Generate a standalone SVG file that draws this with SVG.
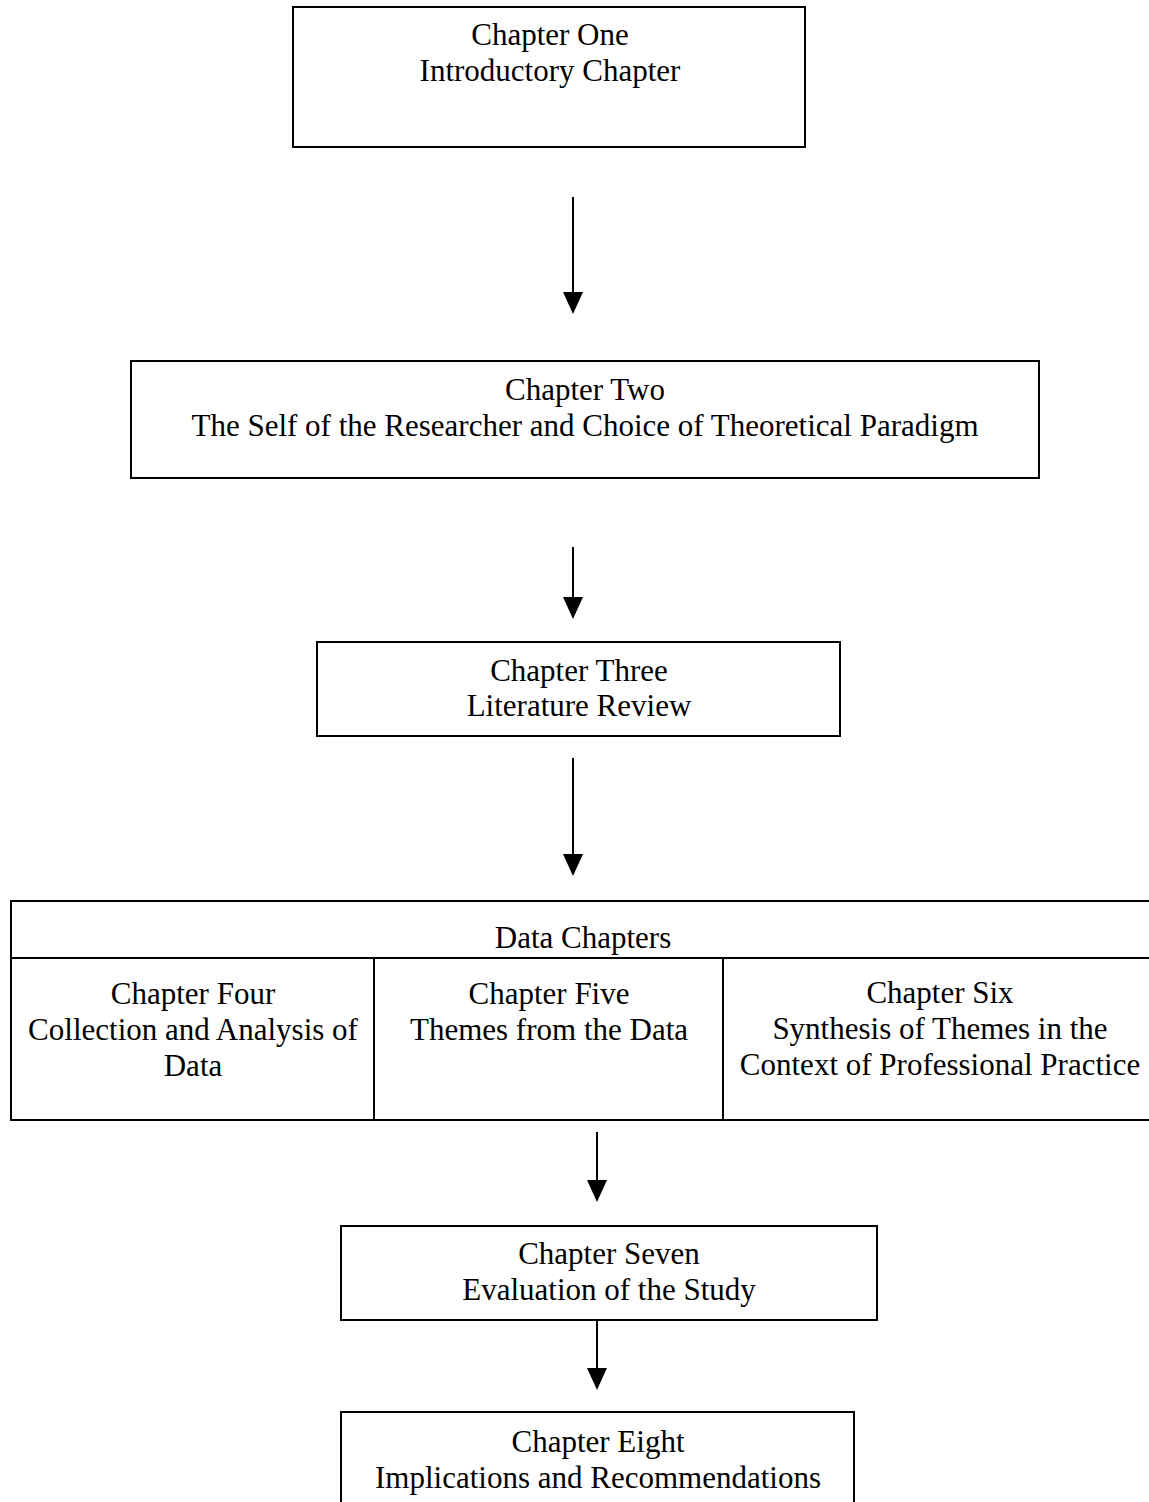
<svg xmlns="http://www.w3.org/2000/svg" width="1149" height="1502" viewBox="0 0 1149 1502">
<style>
.box{fill:#fff;stroke:#000;stroke-width:2}
.ln{stroke:#000;stroke-width:2;fill:none}
.hd{fill:#000}
text{font-family:"Liberation Serif","Times New Roman",serif;font-size:31px;fill:#000;text-anchor:middle}
</style>
<rect width="1149" height="1502" fill="#fff"/>
<g id="connectors">
<line class="ln" x1="573" y1="197" x2="573" y2="293"/><path class="hd" d="M563,292 L583,292 L573,314 Z"/>
<line class="ln" x1="573" y1="547" x2="573" y2="598"/><path class="hd" d="M563,597 L583,597 L573,619 Z"/>
<line class="ln" x1="573" y1="758" x2="573" y2="855"/><path class="hd" d="M563,854 L583,854 L573,876 Z"/>
<line class="ln" x1="597" y1="1132" x2="597" y2="1181"/><path class="hd" d="M587,1180 L607,1180 L597,1202 Z"/>
<line class="ln" x1="597" y1="1320" x2="597" y2="1369"/><path class="hd" d="M587,1368 L607,1368 L597,1390 Z"/>
</g>
<g id="ch1">
<rect class="box" x="293" y="7" width="512" height="140"/>
<text x="550" y="45">Chapter One</text>
<text x="550" y="81">Introductory Chapter</text>
</g>
<g id="ch2">
<rect class="box" x="131" y="361" width="908" height="117"/>
<text x="585" y="400">Chapter Two</text>
<text x="585" y="436">The Self of the Researcher and Choice of Theoretical Paradigm</text>
</g>
<g id="ch3">
<rect class="box" x="317" y="642" width="523" height="94"/>
<text x="579" y="681">Chapter Three</text>
<text x="579" y="716">Literature Review</text>
</g>
<g id="data">
<rect class="box" x="11" y="901" width="1150" height="219"/>
<line class="ln" x1="11" y1="958" x2="1149" y2="958"/>
<line class="ln" x1="374" y1="958" x2="374" y2="1120"/>
<line class="ln" x1="723" y1="958" x2="723" y2="1120"/>
<text x="583" y="948">Data Chapters</text>
</g>
<g id="ch4">
<text x="193" y="1004">Chapter Four</text>
<text x="193" y="1040">Collection and Analysis of</text>
<text x="193" y="1076">Data</text>
</g>
<g id="ch5">
<text x="549" y="1004">Chapter Five</text>
<text x="549" y="1040">Themes from the Data</text>
</g>
<g id="ch6">
<text x="940" y="1003">Chapter Six</text>
<text x="940" y="1039">Synthesis of Themes in the</text>
<text x="940" y="1075">Context of Professional Practice</text>
</g>
<g id="ch7">
<rect class="box" x="341" y="1226" width="536" height="94"/>
<text x="609" y="1264">Chapter Seven</text>
<text x="609" y="1300">Evaluation of the Study</text>
</g>
<g id="ch8">
<rect class="box" x="341" y="1412" width="513" height="100"/>
<text x="598" y="1452">Chapter Eight</text>
<text x="598" y="1488">Implications and Recommendations</text>
</g>
</svg>
